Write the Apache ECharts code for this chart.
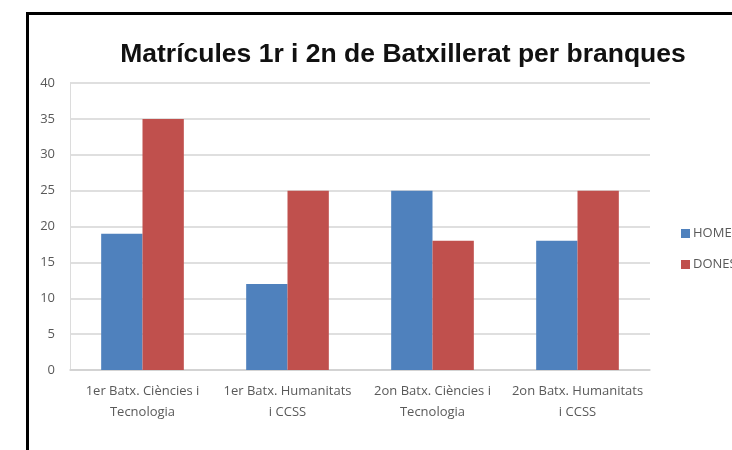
<!DOCTYPE html>
<html>
<head>
<meta charset="utf-8">
<script src="https://cdn.jsdelivr.net/npm/echarts@6/dist/echarts.min.js"></script>
<style>
  html, body { margin: 0; padding: 0; background: #fff; }
  #chart { width: 732px; height: 450px; }
</style>
</head>
<body>
<div id="chart"></div>
<script>
const categories = [
  '1er Batx. Ciències i\nTecnologia',
  '1er Batx. Humanitats\ni CCSS',
  '2on Batx. Ciències i\nTecnologia',
  '2on Batx. Humanitats\ni CCSS'
]
const homes = [19, 12, 25, 18]
const dones = [35, 25, 18, 25]
const seriesNames = ['HOMES', 'DONES']

const myChart = echarts.init(document.getElementById('chart'))

const options = {
  backgroundColor: '#fff',
  animation: false,
  // marc negre de la imatge original
  graphic: [
    { type: 'rect', shape: { x: 26, y: 12, width: 706, height: 3 }, style: { fill: '#000' } },
    { type: 'rect', shape: { x: 26, y: 12, width: 3, height: 438 }, style: { fill: '#000' } }
  ],
  title: {
    text: 'Matrícules 1r i 2n de Batxillerat per branques',
    left: 398,
    textAlign: 'center',
    top: 36,
    textStyle: {
      fontFamily: 'Liberation Sans',
      fontWeight: 'bold',
      fontSize: 26.5,
      color: '#111'
    }
  },
  legend: {
    orient: 'vertical',
    left: 676,
    top: 222,
    itemWidth: 9,
    itemHeight: 9,
    itemGap: 18,
    icon: 'rect',
    data: seriesNames,
    textStyle: {
      fontFamily: 'Open Sans',
      fontSize: 13,
      color: '#595959',
      padding: [0, 0, 0, -2]
    }
  },
  grid: {
    left: 70,
    right: 82,
    top: 83,
    bottom: 80
  },
  xAxis: {
    type: 'category',
    data: categories,
    axisLine: { lineStyle: { color: '#cfcfcf', width: 1.5 } },
    axisTick: { show: false },
    axisLabel: {
      interval: 0,
      margin: 11,
      lineHeight: 21,
      fontFamily: 'Open Sans',
      fontSize: 13,
      color: '#595959'
    }
  },
  yAxis: {
    type: 'value',
    min: 0,
    max: 40,
    interval: 5,
    axisLine: { show: true, lineStyle: { color: '#dcdcdc', width: 1 } },
    axisTick: { show: false },
    splitLine: { lineStyle: { color: '#d4d4d4', width: 1.5 } },
    axisLabel: {
      margin: 15,
      fontFamily: 'Open Sans',
      fontSize: 13,
      color: '#595959'
    }
  },
  series: [
    {
      name: seriesNames[0],
      type: 'bar',
      data: homes,
      barGap: '0%',
      barCategoryGap: '43%',
      itemStyle: { color: '#4F81BD' }
    },
    {
      name: seriesNames[1],
      type: 'bar',
      data: dones,
      itemStyle: { color: '#C0504D' }
    }
  ]
}

myChart.setOption(options)
</script>
</body>
</html>
